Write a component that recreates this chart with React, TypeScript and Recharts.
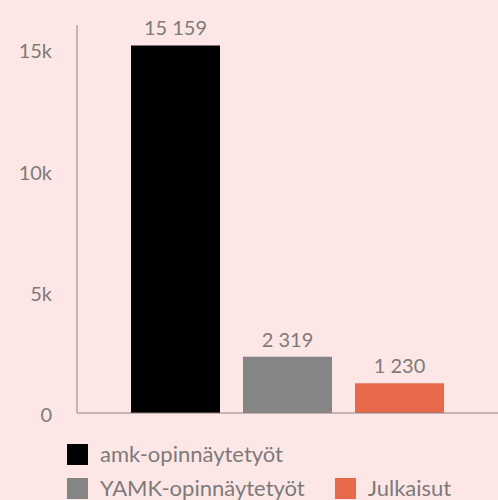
import { Bar, BarChart, LabelList, Legend, XAxis, YAxis } from "recharts"

const categories = ["Yhteensä"]
const seriesNames = ["amk-opinnäytetyöt", "YAMK-opinnäytetyöt", "Julkaisut"]
const seriesValues = [15159, 2319, 1230]
const seriesColors = ["#000000", "#858585", "#e8694a"]
const yTicks = [0, 5000, 10000, 15000]

const data = categories.map((c) => {
  const row: Record<string, string | number> = { name: c }
  seriesNames.forEach((s, i) => {
    row[s] = seriesValues[i]
  })
  return row
})

const textColor = "#7d7a7a"
const font = "Lato, 'Noto Sans', sans-serif"

// legend keeps the series order, recharts hands the payload over reversed
function LegendBox() {
  return (
    <div
      style={{
        height: 80,
        boxSizing: "border-box",
        paddingTop: 23,
        paddingLeft: 67,
        width: 487,
        display: "flex",
        flexWrap: "wrap",
        rowGap: 11,
        fontFamily: font,
        fontSize: 22,
        lineHeight: "22px",
        color: textColor,
      }}
    >
      {seriesNames.map((s, i) => (
        <div key={s} style={{ display: "flex", alignItems: "center", height: 22, marginRight: 30 }}>
          <span style={{ width: 21, height: 21, background: seriesColors[i], marginRight: 12, display: "inline-block" }} />
          <span>{s}</span>
        </div>
      ))}
    </div>
  )
}

export default function App() {
  return (
    <div style={{ width: 498, height: 500, background: "#fde7e6" }}>
      <style>{"body{margin:0}"}</style>
      <BarChart
        width={498}
        height={500}
        data={data}
        margin={{ top: 25, right: 0, bottom: 0, left: 0 }}
        barGap={23}
        barSize={89}
      >
        <XAxis dataKey="name" tick={false} tickLine={false} height={7} stroke="#8a8081" />
        <YAxis
          width={77}
          domain={[0, 16000]}
          ticks={yTicks}
          tickLine={false}
          tickSize={0}
          tickMargin={25}
          stroke="#8a8081"
          tick={{ fill: textColor, fontSize: 20, fontFamily: font, dy: 2 }}
          tickFormatter={(v: number) => (v === 0 ? "0" : `${v / 1000}k`)}
        />
        <Legend verticalAlign="bottom" align="left" content={<LegendBox />} />
        {seriesNames.map((s, i) => (
          <Bar key={s} dataKey={s} fill={seriesColors[i]} isAnimationActive={false}>
            <LabelList
              dataKey={s}
              position="top"
              offset={10}
              fill={textColor}
              fontSize={20}
              fontFamily={font}
              formatter={(v: any) => Number(v).toLocaleString("fi-FI")}
            />
          </Bar>
        ))}
      </BarChart>
    </div>
  )
}
